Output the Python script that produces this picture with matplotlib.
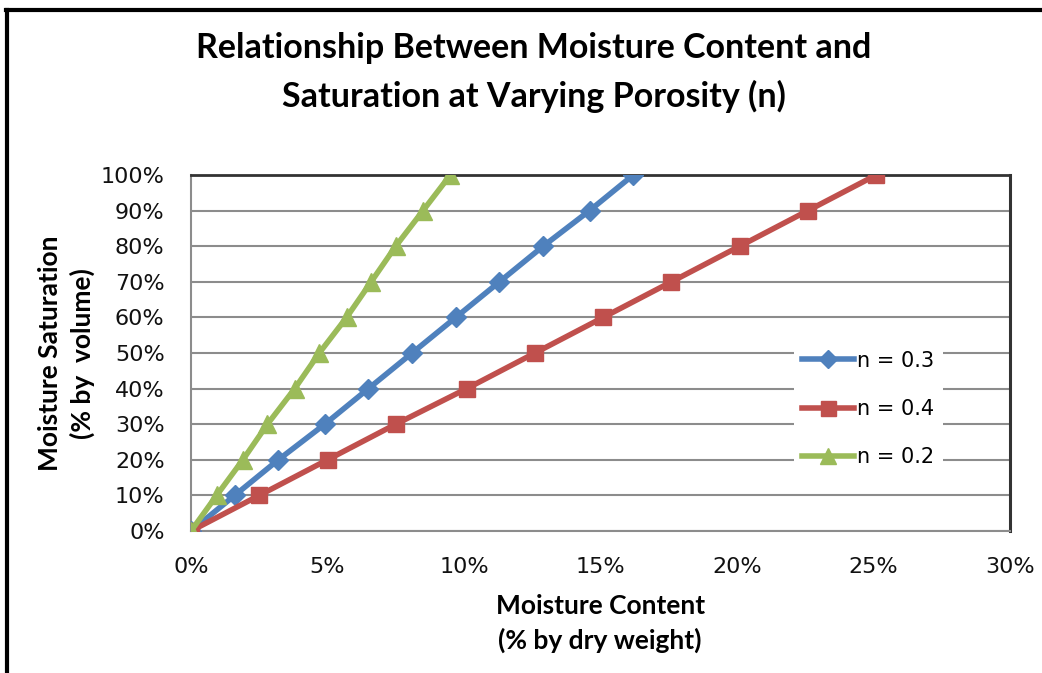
import matplotlib
matplotlib.use("Agg")
import matplotlib.pyplot as plt
from matplotlib.lines import Line2D
from matplotlib.ticker import FuncFormatter, MultipleLocator

# Data (x = moisture content %, y = saturation %)
saturation = [0, 10, 20, 30, 40, 50, 60, 70, 80, 90, 100]
mc_n03 = [0, 1.6, 3.2, 4.9, 6.5, 8.1, 9.7, 11.3, 12.9, 14.6, 16.2]
mc_n04 = [0, 2.5, 5.0, 7.5, 10.1, 12.6, 15.1, 17.6, 20.1, 22.6, 25.1]
mc_n02 = [0, 0.94, 1.9, 2.8, 3.8, 4.7, 5.7, 6.6, 7.5, 8.5, 9.5]
labels = ["n = 0.3", "n = 0.4", "n = 0.2"]

BLUE = "#4f81bd"
RED = "#c0504d"
GREEN = "#9bbb59"
GRID = "#8c8c8c"
HEAD_FONT = ["Lato", "DejaVu Sans"]

plt.rcParams["font.family"] = ["DejaVu Sans"]

fig = plt.figure(figsize=(10.42, 6.73), dpi=100, facecolor="white")
ax = fig.add_axes([0.1833, 0.211, 0.786, 0.529])

ax.plot(mc_n03, saturation, color=BLUE, lw=4, marker="D", ms=10, label=labels[0], zorder=3)
ax.plot(mc_n04, saturation, color=RED, lw=4, marker="s", ms=12, label=labels[1], zorder=3)
ax.plot(mc_n02, saturation, color=GREEN, lw=4, marker="^", ms=13, label=labels[2], zorder=3)

ax.set_xlim(0, 30)
ax.set_ylim(0, 100)
ax.xaxis.set_major_locator(MultipleLocator(5))
ax.yaxis.set_major_locator(MultipleLocator(10))
ax.xaxis.set_major_formatter(FuncFormatter(lambda v, p: f"{v:.0f}%"))
ax.yaxis.set_major_formatter(FuncFormatter(lambda v, p: f"{v:.0f}%"))
ax.tick_params(length=0, labelsize=16, colors="#111111")
ax.tick_params(axis="x", pad=19)
ax.tick_params(axis="y", pad=19)
for lab in ax.get_xticklabels() + ax.get_yticklabels():
    lab.set_clip_on(False)

ax.grid(axis="y", color=GRID, lw=1.5, zorder=0)
ax.set_axisbelow(True)
for side in ("left", "bottom"):
    ax.spines[side].set_color(GRID)
    ax.spines[side].set_linewidth(1.5)
ax.spines["top"].set_color("#333333")
ax.spines["top"].set_linewidth(2)
ax.spines["right"].set_color("#333333")
ax.spines["right"].set_linewidth(2.2)

fig.text(0.512, 0.928, "Relationship Between Moisture Content and",
         ha="center", va="center", fontsize=24.5, fontweight="bold", family=HEAD_FONT)
fig.text(0.512, 0.856, "Saturation at Varying Porosity (n)",
         ha="center", va="center", fontsize=24.5, fontweight="bold", family=HEAD_FONT)

fig.text(0.576, 0.100, "Moisture Content", ha="center", va="center",
         fontsize=19, fontweight="bold", family=HEAD_FONT)
fig.text(0.576, 0.048, "(% by dry weight)", ha="center", va="center",
         fontsize=19, fontweight="bold", family=HEAD_FONT)
fig.text(0.048, 0.475, "Moisture Saturation", ha="center", va="center", rotation=90,
         fontsize=19, fontweight="bold", family=HEAD_FONT)
fig.text(0.079, 0.475, "(% by  volume)", ha="center", va="center", rotation=90,
         fontsize=19, fontweight="bold", family=HEAD_FONT)

leg = ax.legend(loc="center left", bbox_to_anchor=(0.736, 0.343), frameon=True,
                fontsize=15, handlelength=2.5, handletextpad=0.15,
                labelspacing=1.35, borderpad=0.4, borderaxespad=0, markerscale=0.9)
leg.get_frame().set_facecolor("white")
leg.get_frame().set_edgecolor("none")
leg.get_frame().set_alpha(1)

# outer chart frame (top and left edges visible in the source)
fig.add_artist(Line2D([0.006, 1.0], [0.985, 0.985], color="black", lw=3,
                      transform=fig.transFigure))
fig.add_artist(Line2D([0.0065, 0.0065], [0.0, 0.985], color="black", lw=3,
                      transform=fig.transFigure))

fig.savefig("out.png", dpi=100, facecolor="white")
